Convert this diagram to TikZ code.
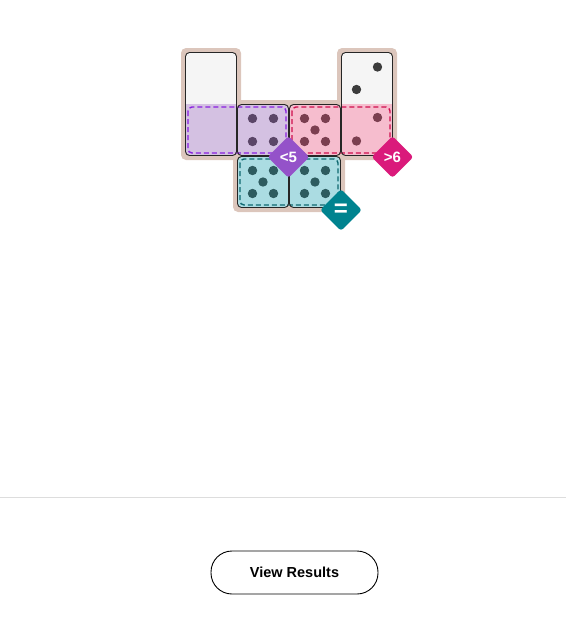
\documentclass[tikz,border=0pt]{standalone}
\usepackage{fontspec}
\setmainfont{Liberation Sans}
\usepackage{tikz}
\usetikzlibrary{shapes.geometric,positioning}

\definecolor{board}{HTML}{DCC6BC}
\definecolor{blankcell}{HTML}{F5F5F5}
\definecolor{lilac}{HTML}{D4C1E2}
\definecolor{rose}{HTML}{F6BDCE}
\definecolor{aqua}{HTML}{ABDCE2}
\definecolor{lilacline}{HTML}{8A1FE0}
\definecolor{roseline}{HTML}{CF0F4E}
\definecolor{aqualine}{HTML}{0F6870}
\definecolor{lilacpip}{HTML}{5B4668}
\definecolor{rosepip}{HTML}{7B3F50}
\definecolor{aquapip}{HTML}{2E5B5F}
\definecolor{blankpip}{HTML}{3C3C3C}
\definecolor{lilacbadge}{HTML}{9452C9}
\definecolor{rosebadge}{HTML}{DA1A7B}
\definecolor{aquabadge}{HTML}{00838F}
\definecolor{rule}{HTML}{DDDDDD}

\tikzset{
  outline/.style={draw=black!85,line width=0.9pt,rounded corners=4pt},
  region/.style={dash pattern=on 5pt off 3pt,line width=1.4pt,rounded corners=4pt},
  badge/.style={diamond,rounded corners=3pt,minimum size=42pt,inner sep=0pt,text=white,font=\bfseries\fontsize{15}{17}\selectfont},
  pip/.style={radius=4.7pt}
}

\begin{document}
\begin{tikzpicture}[x=1pt,y=-1pt]
\useasboundingbox (0,0) rectangle (566,622);

% board
\fill[board,rounded corners=5pt] (181,48) rectangle (241,160);
\fill[board,rounded corners=5pt] (337,48) rectangle (397,160);
\fill[board,rounded corners=5pt] (233,100) rectangle (345,212);

% left domino (blank / blank)
\begin{scope}
\clip[rounded corners=4pt] (185.5,52.5) rectangle (236.5,155.5);
\fill[blankcell] (185,52) rectangle (237,104);
\fill[lilac] (185,104) rectangle (237,156);
\end{scope}

% right domino (2 / 2)
\begin{scope}
\clip[rounded corners=4pt] (341.5,52.5) rectangle (392.5,155.5);
\fill[blankcell] (341,52) rectangle (393,104);
\fill[rose] (341,104) rectangle (393,156);
\end{scope}

% middle cells
\fill[lilac,rounded corners=4pt] (237.5,104.5) rectangle (288.5,155.5);
\fill[rose,rounded corners=4pt] (289.5,104.5) rectangle (340.5,155.5);
\fill[aqua,rounded corners=4pt] (237.5,156.5) rectangle (288.5,207.5);
\fill[aqua,rounded corners=4pt] (289.5,156.5) rectangle (340.5,207.5);

% pips
\foreach \dx/\dy in {-10.5/-11.5,10.5/-11.5,-10.5/11.5,10.5/11.5}
  \fill[lilacpip] (263+\dx,130+\dy) circle[pip];
\foreach \dx/\dy in {-10.5/-11.5,10.5/-11.5,0/0,-10.5/11.5,10.5/11.5}
  \fill[rosepip] (315+\dx,130+\dy) circle[pip];
\foreach \cx in {263,315}
  \foreach \dx/\dy in {-10.5/-11.5,10.5/-11.5,0/0,-10.5/11.5,10.5/11.5}
    \fill[aquapip] (\cx+\dx,182+\dy) circle[pip];
\fill[blankpip] (377.5,67) circle[pip];
\fill[blankpip] (356.5,89.5) circle[pip];
\fill[rosepip] (377.5,117.5) circle[pip];
\fill[rosepip] (356.5,141) circle[pip];

% regions
\draw[region,lilacline] (188,107) rectangle (286,153);
\draw[region,roseline] (292,107) rectangle (390,153);
\draw[region,aqualine] (240,159) rectangle (338,205);

% domino outlines
\draw[outline] (185.5,52.5) rectangle (236.5,155.5);
\draw[outline] (341.5,52.5) rectangle (392.5,155.5);
\draw[outline] (237.5,104.5) rectangle (288.5,155.5);
\draw[outline] (289.5,104.5) rectangle (340.5,155.5);
\draw[outline] (237.5,156.5) rectangle (288.5,207.5);
\draw[outline] (289.5,156.5) rectangle (340.5,207.5);

% badges
\node[badge,fill=lilacbadge] (less) at (288.5,157) {<5};
\node[badge,fill=rosebadge] (more) at (392.5,157) {>6};
\node[badge,fill=aquabadge,font=\bfseries\fontsize{24}{26}\selectfont] (equal) at (341,210) {=};

% footer
\draw[rule,line width=1pt] (0,497) -- (566,497);
\node[draw=black,line width=0.9pt,rounded corners=21pt,minimum width=167pt,minimum height=43pt,inner sep=0pt,font=\bfseries\fontsize{14.5}{17}\selectfont] (results) at (294.5,572.5) {View Results};
\end{tikzpicture}
\end{document}
